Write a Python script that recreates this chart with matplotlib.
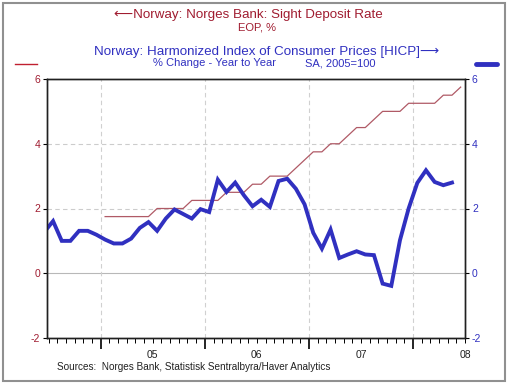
import matplotlib
matplotlib.use("Agg")
import matplotlib.pyplot as plt
from matplotlib.lines import Line2D
from matplotlib.patches import Rectangle

plt.rcParams['font.family'] = ['Liberation Sans', 'DejaVu Sans']

# ---- data ----
hicp_start = (2004, 6)   # first month of HICP series
hicp = [1.28, 1.61, 1.00, 1.00, 1.31, 1.31, 1.19,
        1.04, 0.92, 0.92, 1.07, 1.40, 1.58, 1.31, 1.69, 1.97, 1.83, 1.69, 1.98,
        1.89, 2.89, 2.51, 2.80, 2.41, 2.07, 2.27, 2.05, 2.85, 2.92, 2.61, 2.13,
        1.25, 0.76, 1.35, 0.47, 0.58, 0.68, 0.58, 0.56, -0.32, -0.39, 1.02, 2.00,
        2.79, 3.18, 2.82, 2.72, 2.80]
rate_start = (2005, 1)
rate = [1.75, 1.75, 1.75, 1.75, 1.75, 1.75, 2.0, 2.0, 2.0, 2.0, 2.25, 2.25,
        2.25, 2.25, 2.5, 2.5, 2.5, 2.75, 2.75, 3.0, 3.0, 3.0, 3.25, 3.5,
        3.75, 3.75, 4.0, 4.0, 4.25, 4.5, 4.5, 4.75, 5.0, 5.0, 5.0, 5.25,
        5.25, 5.25, 5.25, 5.5, 5.5, 5.75]
year_labels = ["05", "06", "07", "08"]
yticks = [-2, 0, 2, 4, 6]

RED_TXT = "#a01c30"
RED_LINE = "#b05a66"
BLUE = "#3030c0"

def month_x(start, n):
    y0, m0 = start
    base = (y0 - 2005) * 12 + (m0 - 1)
    return [base + i + 0.5 for i in range(n)]

W, H = 510, 384
fig = plt.figure(figsize=(W / 100, H / 100), dpi=100)

# outer frame
fig.patches.append(Rectangle((3 / W, 3 / H), 502 / W, 378 / H, transform=fig.transFigure,
                             fill=False, edgecolor="#909090", linewidth=1.5))

ax = fig.add_axes([47 / W, 1 - 338 / H, (465 - 47) / W, (338 - 79) / H])
ax2 = ax.twinx()

ax.set_xlim(-6.2, 42)
ax.set_ylim(-2, 6)
ax2.set_ylim(-2, 6)

# grid
for yv in [2, 4]:
    ax.axhline(yv, color="#cccccc", linestyle=(0, (4, 3)), linewidth=0.8, zorder=0)
ax.axhline(0, color="#b8b8b8", linewidth=0.8, zorder=0)
for xv in [0, 12, 24, 36]:
    ax.axvline(xv, color="#d0d0d0", linestyle=(0, (4, 3)), linewidth=0.8, zorder=0)

# series
ax.plot(month_x(rate_start, len(rate)), rate, color=RED_LINE, linewidth=0.9, zorder=3)
ax.plot(month_x(hicp_start, len(hicp)), hicp, color=BLUE, linewidth=2.8,
        solid_joinstyle="miter", zorder=4)

# y axes
ax.set_yticks(yticks)
ax.set_yticklabels([str(v) for v in yticks], color=RED_TXT, fontsize=7.5)
ax.tick_params(axis="y", direction="out", length=3, width=0.8, pad=2)
ax2.set_yticks(yticks)
ax2.set_yticklabels([str(v) for v in yticks], color=BLUE, fontsize=7.5)
ax2.tick_params(axis="y", direction="out", length=3, width=0.8, pad=2)

# x axis
ax.set_xticks([0, 12, 24, 36])
ax.set_xticklabels([])
ax.tick_params(axis="x", which="major", direction="out", length=8, width=1.2)
ax.set_xticks(list(range(-6, 43)), minor=True)
ax.tick_params(axis="x", which="minor", direction="out", length=3.5, width=0.7)
for i, lab in enumerate(year_labels):
    ax.text(6 + 12 * i, -0.045, lab, transform=ax.get_xaxis_transform(),
            ha="center", va="top", fontsize=7.5, color="#222222")

for a in (ax, ax2):
    for s in a.spines.values():
        s.set_linewidth(1.0)
        s.set_color("#202020")

# titles
fig.text(248 / W, 1 - 15 / H, "\u27f5Norway: Norges Bank: Sight Deposit Rate", color=RED_TXT,
         ha="center", va="center", fontsize=9.6)
fig.text(257 / W, 1 - 27 / H, "EOP, %", color=RED_TXT, ha="center", va="center", fontsize=8)
fig.text(267 / W, 1 - 52 / H, "Norway: Harmonized Index of Consumer Prices [HICP]\u27f6", color=BLUE,
         ha="center", va="center", fontsize=9.6)
fig.text(215 / W, 1 - 63 / H, "% Change - Year to Year", color=BLUE, ha="center", va="center",
         fontsize=8)
fig.text(340 / W, 1 - 63 / H, "SA, 2005=100", color=BLUE, ha="center", va="center", fontsize=8)

# legend marks
fig.add_artist(Line2D([15 / W, 37 / W], [1 - 64 / H, 1 - 64 / H], transform=fig.transFigure,
                      color="#c02030", linewidth=1.0))
fig.add_artist(Line2D([476 / W, 497 / W], [1 - 64 / H, 1 - 64 / H], transform=fig.transFigure,
                      color=BLUE, linewidth=3.5, solid_capstyle="round"))

fig.text(57 / W, 1 - 367 / H, "Sources:  Norges Bank, Statistisk Sentralbyra/Haver Analytics",
         ha="left", va="center", fontsize=7.2, color="#222222")

fig.savefig("out.png", dpi=100)
